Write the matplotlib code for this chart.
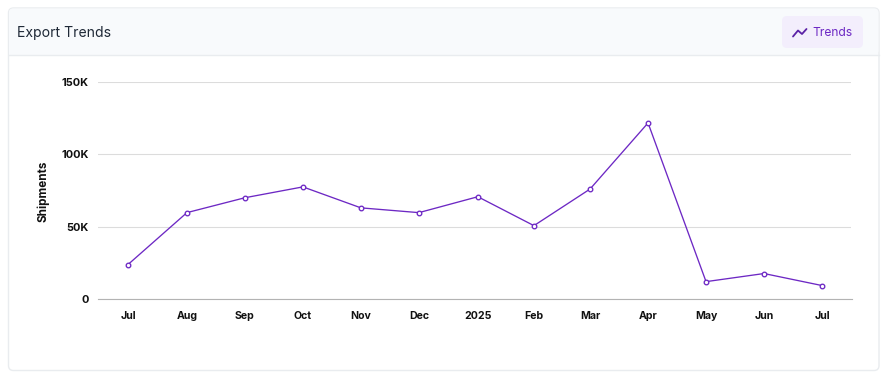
import matplotlib
matplotlib.use("Agg")
import matplotlib.pyplot as plt
from matplotlib.patches import FancyBboxPatch, Rectangle
from matplotlib.lines import Line2D

months = ["Jul", "Aug", "Sep", "Oct", "Nov", "Dec", "2025", "Feb", "Mar", "Apr", "May", "Jun", "Jul"]
days_from_start = [0, 31, 61.5, 92, 122.5, 153, 184, 213.5, 243, 273.5, 304, 334.5, 365]
shipments = [23800, 59700, 70000, 77500, 63000, 59700, 70700, 50700, 76000, 121700, 12000, 17600, 9300]
y_ticks = [0, 50000, 100000, 150000]
y_tick_labels = ["0", "50K", "100K", "150K"]
title = "Export Trends"
button_label = "Trends"
y_label = "Shipments"

W, H = 887, 378
PURPLE = "#6d28c4"
plt.rcParams["font.family"] = ["Inter", "DejaVu Sans"]

fig = plt.figure(figsize=(W / 100, H / 100), dpi=100, facecolor="white")

# page furniture, in pixel coordinates
bg = fig.add_axes([0, 0, 1, 1], zorder=0)
bg.set_xlim(0, W)
bg.set_ylim(H, 0)
bg.axis("off")
bg.add_patch(FancyBboxPatch((8.5, 8), 870.5, 362.5, boxstyle="round,pad=0,rounding_size=5",
                            fc="white", ec="#e9ecef", lw=1))
bg.add_patch(FancyBboxPatch((9, 8.5), 869.5, 46, boxstyle="round,pad=0,rounding_size=4",
                            fc="#f8fafc", ec="none"))
bg.add_patch(Rectangle((9, 40), 869.5, 14.5, fc="#f8fafc", ec="none"))
bg.add_line(Line2D([9, 879], [55, 55], color="#e9ecef", lw=1))
bg.add_patch(FancyBboxPatch((782, 16), 81, 32, boxstyle="round,pad=0,rounding_size=5",
                            fc="#f3eefc", ec="none"))
bg.add_line(Line2D([793, 798, 802, 806.5], [36.5, 30.5, 34, 29], color="#5b21a6", lw=1.3,
                   solid_joinstyle="round", solid_capstyle="round"))
bg.text(17, 32.5, title, fontsize=10.1, color="#1f2937", va="center", ha="left")
bg.text(812.5, 32.5, button_label, fontsize=8.7, color=PURPLE, va="center", ha="left")

# chart
ax = fig.add_axes([98.5 / W, 1 - 299 / H, 753 / W, 217 / H], zorder=1)
ax.patch.set_alpha(0)
ax.plot(days_from_start, shipments, color=PURPLE, lw=0.95, marker="o", ms=3.3,
        mfc="white", mec=PURPLE, mew=0.95, zorder=3, clip_on=False)
ax.set_xlim(-15.5, 380.5)
ax.set_ylim(0, 150000)
ax.set_yticks(y_ticks)
ax.set_yticklabels(y_tick_labels)
ax.set_xticks(days_from_start)
ax.set_xticklabels(months)
ax.grid(axis="y", color="#dcdcdc", lw=0.8)
ax.set_axisbelow(True)
for s in ["top", "right", "left"]:
    ax.spines[s].set_visible(False)
ax.spines["bottom"].set_color("#b3b3b3")
ax.spines["bottom"].set_linewidth(0.8)
ax.tick_params(axis="both", length=0)
ax.tick_params(axis="x", pad=8.5, labelsize=7.6)
ax.tick_params(axis="y", pad=7, labelsize=7.9)
for t in ax.get_xticklabels() + ax.get_yticklabels():
    t.set_fontweight("bold")
    t.set_color("#111111")
fig.text(43 / W, 1 - 191 / H, y_label, rotation=90, fontsize=8.4, fontweight="bold",
         color="#111111", ha="center", va="center")

fig.savefig("out.png", dpi=100, facecolor="white")
